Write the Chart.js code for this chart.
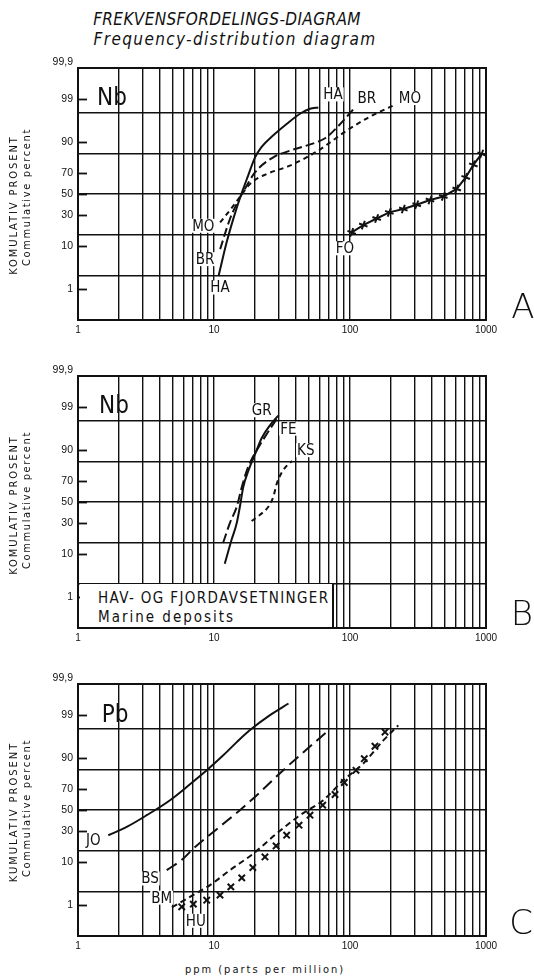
<!DOCTYPE html>
<html lang="no">
<head>
<meta charset="UTF-8">
<title>Frekvensfordelings-diagram</title>
<script src="https://cdn.jsdelivr.net/npm/chart.js"></script>
<style>
  body { margin: 0; background: #fff; width: 534px; height: 977px; position: relative; overflow: hidden;
         font-family: 'DejaVu Sans Condensed', 'Liberation Sans Narrow', 'DejaVu Sans', sans-serif; color: #111; }
  canvas { position: absolute; left: 0; }
  .txt { position: absolute; white-space: nowrap; line-height: 1; transform-origin: 50% 50%; }
  .ttl { font-style: italic; font-size: 17px; }
  .ax { font-size: 11px; }
  .el { font-size: 24px; }
  .pl { font-family: 'DejaVu Sans', sans-serif; font-size: 34px; font-weight: 300; }
  .box { position: absolute; background: #fff; border-right: 2px solid #111; box-sizing: border-box; }
  .box div { font-size: 15px; line-height: 17px; white-space: nowrap; display: inline-block; }
</style>
</head>
<body>
<div class="txt ttl" id="t1" data-w="268" style="left:227px; top:19px;">FREKVENSFORDELINGS-DIAGRAM</div>
<div class="txt ttl" id="t2" data-w="283" style="left:235px; top:39px;">Frequency-distribution diagram</div>

<canvas id="chartA" width="534" height="294" style="top:48px"></canvas>
<canvas id="chartB" width="534" height="294" style="top:356px"></canvas>
<canvas id="chartC" width="534" height="294" style="top:664px"></canvas>

<div class="txt el" style="left:112px; top:97px;">Nb</div>
<div class="txt el" style="left:114px; top:405px;">Nb</div>
<div class="txt el" style="left:115px; top:714px;">Pb</div>

<div class="box" style="left:80px; top:584px; width:254px; height:43px; padding:4px 0 0 18px;">
  <div data-bw="232">HAV- OG FJORDAVSETNINGER</div><br>
  <div data-bw="137">Marine deposits</div>
</div>

<div class="txt ax rot" data-w="140" style="left:13px; top:205px;">KOMULATIV PROSENT</div>
<div class="txt ax rot" data-w="138" style="left:26px; top:197px;">Commulative percent</div>
<div class="txt ax rot" data-w="140" style="left:13px; top:505px;">KOMULATIV PROSENT</div>
<div class="txt ax rot" data-w="138" style="left:26px; top:500px;">Commulative percent</div>
<div class="txt ax rot" data-w="140" style="left:13px; top:812px;">KUMULATIV PROSENT</div>
<div class="txt ax rot" data-w="138" style="left:26px; top:808px;">Commulative percent</div>

<div class="txt pl" style="left:523px; top:306px;">A</div>
<div class="txt pl" style="left:522px; top:613px;">B</div>
<div class="txt pl" style="left:521px; top:922px;">C</div>

<div class="txt ax" data-w="160" style="left:265px; top:969px;">ppm (parts per million)</div>

<script>
// ---- data (ppm on the log axis, cumulative percent on the probability axis) ----

// A: Nb
const haPpm = [10.8, 12.4, 13.9, 15.5, 17.9, 20.0, 22.4, 27.3, 34.2, 42.9, 50.8, 58.5];
const haPct = [2.2, 11.9, 27.5, 45.9, 68.0, 81.4, 87.6, 92.5, 95.7, 97.55, 98.17, 98.3];
const brPpm = [11.1, 13.1, 15.1, 17.4, 20.0, 27.3, 36.2, 56.9, 66.0, 82.0, 107];
const brPct = [8.8, 27.0, 43.5, 58.1, 70.2, 81.6, 85.6, 89.8, 91.5, 95.2, 98.2];
const moPpm = [11.1, 13.9, 16.4, 18.9, 24.4, 36.2, 56.9, 94.6, 140, 208];
const moPct = [24.3, 38.7, 51.6, 61.2, 68.8, 75.7, 85.1, 94.0, 97.1, 98.5];
const foPpm = [102.9, 125.3, 157, 194.5, 246.6, 309.4, 387.5, 485.5, 609, 709, 807, 929];
const foPct = [17.3, 22.3, 27.4, 32.6, 35.6, 39.6, 44.1, 47.6, 54.9, 65.8, 76.2, 83.7];

// B: Nb, marine deposits
const grPpm = [12.0, 13.5, 14.7, 15.5, 16.4, 17.9, 20.0, 22.4, 25.8, 29.7];
const grPct = [6.5, 18.0, 30.4, 45.4, 64.2, 77.8, 87.8, 94.1, 97.0, 98.3];
const fePpm = [11.65, 13.1, 14.7, 16.0, 17.4, 18.9, 21.8, 25.1, 30.0];
const fePct = [15.7, 30.4, 45.4, 64.2, 77.8, 85.2, 92.0, 95.8, 98.3];
const ksPpm = [18.9, 21.8, 25.1, 27.3, 28.9, 31.5, 34.2, 37.5];
const ksPct = [32.0, 37.7, 45.4, 55.0, 67.2, 76.5, 81.2, 84.3];

// C: Pb
const joPpm = [1.67, 2.28, 3.2, 4.75, 6.66, 8.84, 11.7, 14.7, 18.4, 25.8, 35.3];
const joPct = [26.8, 33.9, 44.9, 59.5, 73.6, 83.5, 91.0, 95.2, 97.5, 99.0, 99.55];
const bsPpm = [4.49, 5.95, 7.05, 10.47, 15.5, 21.8, 28.9, 40.5, 67.4];
const bsPct = [7.0, 11.7, 17.2, 31.9, 49.8, 66.9, 79.6, 89.8, 97.2];
const bmPpm = [4.9, 6.66, 9.35, 13.1, 19.5, 28.9, 42.9, 63.6, 89.3, 125.3, 175.8, 226.5];
const bmPct = [0.85, 1.66, 3.27, 7.0, 14.3, 28.2, 44.9, 59.5, 76.7, 87.3, 95.6, 98.1];
const huPpm = [5.79, 7.05, 8.84, 11.07, 13.3, 16.0, 19.3, 23.7, 28.6, 34.2, 42.2, 50.8, 63.0, 77.6, 90.8, 110.7, 127.4, 152.6, 180.9];
const huPct = [0.88, 1.05, 1.35, 1.84, 2.97, 4.8, 7.9, 12.5, 18.9, 26.8, 35.5, 44.9, 54.7, 64.8, 75.0, 83.5, 89.6, 94.1, 97.2];

// curve names at [text, ppm, percent]
const labelsA = [['HA', 75, 99.27], ['BR', 132.7, 99.07], ['MO', 276, 99.07],
                 ['MO', 8.34, 21.8], ['BR', 8.59, 5.5], ['HA', 11.07, 1.09], ['FO', 91.9, 9.15]];
const labelsB = [['GR', 22.4, 98.78], ['FE', 35.2, 96.4], ['KS', 47.3, 89.8]];
const labelsC = [['JO', 1.296, 22.96], ['BS', 3.38, 4.66], ['BM', 4.12, 1.58], ['HU', 7.35, 0.33]];

// axes
const pctTicks = [1, 10, 30, 50, 70, 90, 99, 99.9];
const pctTickLabels = ['1', '10', '30', '50', '70', '90', '99', '99,9'];
const sigmaLines = [-2, -1, 0, 1, 2];
const xGrid = [1, 2, 3, 4, 5, 6, 7, 8, 9, 10, 20, 30, 40, 50, 60, 70, 80, 90,
               100, 200, 300, 400, 500, 600, 700, 800, 900, 1000];
const xTickLabels = [1, 10, 100, 1000];

// percent -> standard normal quantile (probability paper)
function probit(pct) {
  const p = pct / 100;
  const a = [-3.969683028665376e+01, 2.209460984245205e+02, -2.759285104469687e+02, 1.383577518672690e+02, -3.066479806614716e+01, 2.506628277459239e+00];
  const b = [-5.447609879822406e+01, 1.615858368580409e+02, -1.556989798598866e+02, 6.680131188771972e+01, -1.328068155288572e+01];
  const c = [-7.784894002430293e-03, -3.223964580411365e-01, -2.400758277161838e+00, -2.549732539343734e+00, 4.374664141464968e+00, 2.938163982698783e+00];
  const d = [7.784695709041462e-03, 3.224671290700398e-01, 2.445134137142996e+00, 3.754408661907416e+00];
  const pl = 0.02425;
  let q, r;
  if (p < pl) {
    q = Math.sqrt(-2 * Math.log(p));
    return (((((c[0]*q+c[1])*q+c[2])*q+c[3])*q+c[4])*q+c[5]) / ((((d[0]*q+d[1])*q+d[2])*q+d[3])*q+1);
  }
  if (p > 1 - pl) {
    q = Math.sqrt(-2 * Math.log(1 - p));
    return -(((((c[0]*q+c[1])*q+c[2])*q+c[3])*q+c[4])*q+c[5]) / ((((d[0]*q+d[1])*q+d[2])*q+d[3])*q+1);
  }
  q = p - 0.5; r = q * q;
  return (((((a[0]*r+a[1])*r+a[2])*r+a[3])*r+a[4])*r+a[5])*q / (((((b[0]*r+b[1])*r+b[2])*r+b[3])*r+b[4])*r+1);
}

const INK = '#111';
const zMin = probit(0.1), zMax = probit(99.9);

// combined y tick list: percent labels + sigma grid lines + frame
const yTicks = [];
yTicks.push({ value: zMin, label: '', grid: true, mark: false });
sigmaLines.forEach(z => { if (z !== 0) yTicks.push({ value: z, label: '', grid: true, mark: false }); });
pctTicks.forEach((p, i) => {
  const top = p === 99.9;
  yTicks.push({ value: top ? zMax : probit(p), label: top ? [pctTickLabels[i], ''] : pctTickLabels[i],
                grid: p === 50 || top, mark: !top });
});
yTicks.sort((u, v) => u.value - v.value);

function pts(xs, ys) { return xs.map((x, i) => ({ x: x, y: probit(ys[i]) })); }

function line(xs, ys, dash) {
  return { data: pts(xs, ys), borderColor: INK, borderWidth: 2, borderDash: dash || [],
           pointRadius: 0, cubicInterpolationMode: 'monotone', fill: false };
}
function crosses(xs, ys, style, joined) {
  return { data: pts(xs, ys), borderColor: INK, backgroundColor: INK, borderWidth: 2,
           pointStyle: style, pointRadius: 4.5, pointRotation: style === 'cross' ? 20 : 0,
           showLine: joined, borderDash: [], tension: 0, fill: false };
}

const frame = {
  id: 'frame',
  afterDraw(chart) {
    const ctx = chart.ctx, ys = chart.scales.y, a = chart.chartArea;
    ctx.save();
    ctx.strokeStyle = INK;
    ctx.lineWidth = 1.8;
    yTicks.forEach(t => {
      if (!t.mark) return;
      const y = Math.round(ys.getPixelForValue(t.value)) + 0.5;
      ctx.beginPath(); ctx.moveTo(a.left, y); ctx.lineTo(a.left + 9, y); ctx.stroke();
    });
    ctx.lineWidth = 2;
    ctx.strokeRect(a.left, a.top, a.right - a.left, a.bottom - a.top);
    ctx.restore();
  }
};

function nameTags(list) {
  return {
    id: 'nameTags',
    afterDatasetsDraw(chart) {
      const ctx = chart.ctx, xs = chart.scales.x, ys = chart.scales.y;
      ctx.save();
      ctx.font = "15px 'DejaVu Sans Condensed', 'DejaVu Sans', sans-serif";
      ctx.textAlign = 'center';
      ctx.textBaseline = 'middle';
      list.forEach(([txt, ppm, pct]) => {
        const x = xs.getPixelForValue(ppm), y = ys.getPixelForValue(probit(pct));
        const w = ctx.measureText(txt).width;
        ctx.fillStyle = '#fff';
        ctx.fillRect(x - w / 2 - 1, y - 7, w + 2, 14);
        ctx.fillStyle = INK;
        ctx.fillText(txt, x, y + 1);
      });
      ctx.restore();
    }
  };
}

function makeChart(id, datasets, tags) {
  return new Chart(document.getElementById(id), {
    type: 'line',
    data: { datasets: datasets },
    options: {
      responsive: false,
      animation: false,
      layout: { padding: { top: 20, right: 48, left: 0, bottom: 0 } },
      plugins: { legend: { display: false }, tooltip: { enabled: false } },
      scales: {
        x: {
          type: 'logarithmic', min: 1, max: 1000,
          afterBuildTicks: s => { s.ticks = xGrid.map(v => ({ value: v })); },
          afterFit: s => { s.height = 22; },
          ticks: { autoSkip: false, maxRotation: 0, padding: 4, color: INK, font: { size: 10 },
                   callback: v => xTickLabels.includes(v) ? String(v) : '' },
          grid: { color: INK, lineWidth: 1.4, drawTicks: false },
          border: { display: false }
        },
        y: {
          type: 'linear', min: zMin, max: zMax,
          afterBuildTicks: s => { s.ticks = yTicks.map(t => ({ value: t.value })); },
          afterFit: s => { s.width = 78; },
          ticks: { autoSkip: false, padding: 5, color: INK, font: { size: 10.5 },
                   callback: (v, i) => yTicks[i].label },
          grid: { color: c => yTicks[c.index] && yTicks[c.index].grid ? INK : 'rgba(0,0,0,0)',
                  lineWidth: 1.4, drawTicks: false },
          border: { display: false }
        }
      }
    },
    plugins: [frame, nameTags(tags)]
  });
}

makeChart('chartA', [
  line(haPpm, haPct),
  line(brPpm, brPct, [9, 4]),
  line(moPpm, moPct, [5, 4]),
  crosses(foPpm, foPct, 'cross', true)
], labelsA);

makeChart('chartB', [
  line(grPpm, grPct),
  line(fePpm, fePct, [10, 4]),
  line(ksPpm, ksPct, [5, 4])
], labelsB);

makeChart('chartC', [
  line(joPpm, joPct),
  line(bsPpm, bsPct, [12, 6]),
  line(bmPpm, bmPct, [6, 4]),
  crosses(huPpm, huPct, 'crossRot', false)
], labelsC);

// fit the lettering to the widths measured on the drawing
document.querySelectorAll('.txt[data-w]').forEach(el => {
  const target = +el.dataset.w;
  const n = el.textContent.length;
  const natural = el.offsetWidth;
  let tf = 'translate(-50%, -50%)';
  if (natural < target) el.style.letterSpacing = ((target - natural) / n) + 'px';
  else tf += ' scaleX(' + (target / natural) + ')';
  if (el.classList.contains('rot')) tf += ' rotate(-90deg)';
  el.style.transform = tf;
});
document.querySelectorAll('.txt:not([data-w])').forEach(el => {
  el.style.transform = 'translate(-50%, -50%)';
});
document.querySelectorAll('[data-bw]').forEach(el => {
  const natural = el.offsetWidth, target = +el.dataset.bw;
  if (natural < target) el.style.letterSpacing = ((target - natural) / el.textContent.length) + 'px';
});
</script>
</body>
</html>
